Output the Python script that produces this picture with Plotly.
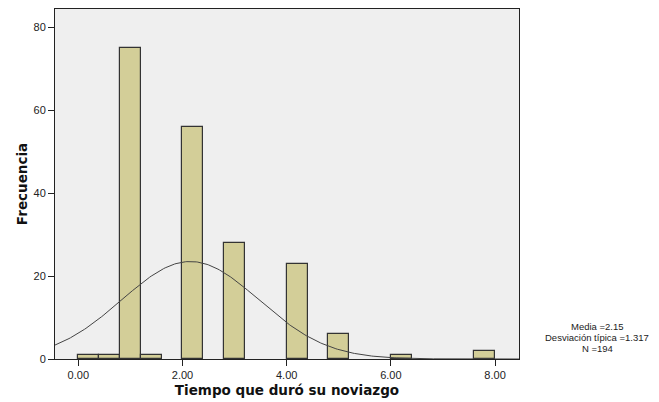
import numpy as np
import plotly.graph_objects as go

# Histogram data (bin centers, width 0.4)
bin_centers = [0.2, 0.6, 1.0, 1.4, 2.2, 3.0, 4.2, 5.0, 6.2, 7.8]
counts = [1, 1, 75, 1, 56, 28, 23, 6, 1, 2]
bin_width = 0.4

# Summary statistics shown on the chart
media = 2.15
desv = 1.317
n_total = 194

x_ticks = [0, 2, 4, 6, 8]
x_tick_labels = ["0.00", "2.00", "4.00", "6.00", "8.00"]
y_ticks = [0, 20, 40, 60, 80]

x_range = [-0.447, 8.46]
y_range = [0, 84.4]

# fitted normal curve from the displayed mean / sd
xc = np.linspace(x_range[0], x_range[1], 300)
yc = n_total * bin_width / (desv * np.sqrt(2 * np.pi)) * np.exp(-0.5 * ((xc - media) / desv) ** 2)

fig = go.Figure()
fig.add_trace(go.Bar(
    x=bin_centers, y=counts, width=bin_width,
    marker=dict(color="#D3CE98", line=dict(color="#333333", width=1.2)),
    showlegend=False, hoverinfo="skip"))
fig.add_trace(go.Scatter(
    x=xc, y=yc, mode="lines",
    line=dict(color="#444444", width=1),
    showlegend=False, hoverinfo="skip"))

# page body has an 8px margin, so figure coords = screen coords - 8
W, H = 651, 394
L, R, T, B = 47, 140, 1, 43
pw, ph = W - L - R, H - T - B

fig.update_layout(
    width=W, height=H,
    margin=dict(l=L, r=R, t=T, b=B, pad=0, autoexpand=False),
    paper_bgcolor="white", plot_bgcolor="#EFEFEF",
    bargap=0,
    font=dict(family="Liberation Sans, Arial", size=11, color="#222222"),
)
fig.update_xaxes(
    range=x_range, tickvals=x_ticks, ticktext=x_tick_labels,
    automargin=False,
    showgrid=False, zeroline=False,
    showline=True, mirror=True, linecolor="#222222", linewidth=1,
    ticks="outside", ticklen=6, tickcolor="#222222",
    tickfont=dict(size=11, color="#222222"),
    title=dict(text="<b>Tiempo que duró su noviazgo</b>",
               font=dict(family="DejaVu Sans", size=13.5, color="#111111"),
               standoff=5),
)
fig.update_yaxes(
    range=y_range, tickvals=y_ticks,
    automargin=False,
    showgrid=False, zeroline=False,
    showline=True, mirror=True, linecolor="#222222", linewidth=1,
    ticks="outside", ticklen=6, tickcolor="#222222",
    tickfont=dict(size=11, color="#222222"),
    title=dict(text="<b>Frecuencia</b>",
               font=dict(family="DejaVu Sans", size=13.5, color="#111111"),
               standoff=2),
)

def px_to_paper(px, py):
    # px, py in figure pixel coordinates
    return (px - L) / pw, (H - B - py) / ph

stats_lines = ["Media =2.15", "Desviación típica =%.3f" % desv, "N =%d" % n_total]
stats_y = [318, 329, 340]
for txt, py in zip(stats_lines, stats_y):
    xp, yp = px_to_paper(589, py)
    fig.add_annotation(x=xp, y=yp, xref="paper", yref="paper",
                       text=txt, showarrow=False, xanchor="center", yanchor="middle",
                       font=dict(family="Liberation Sans, Arial", size=9.5, color="#222222"))

fig.write_html("out.html")
